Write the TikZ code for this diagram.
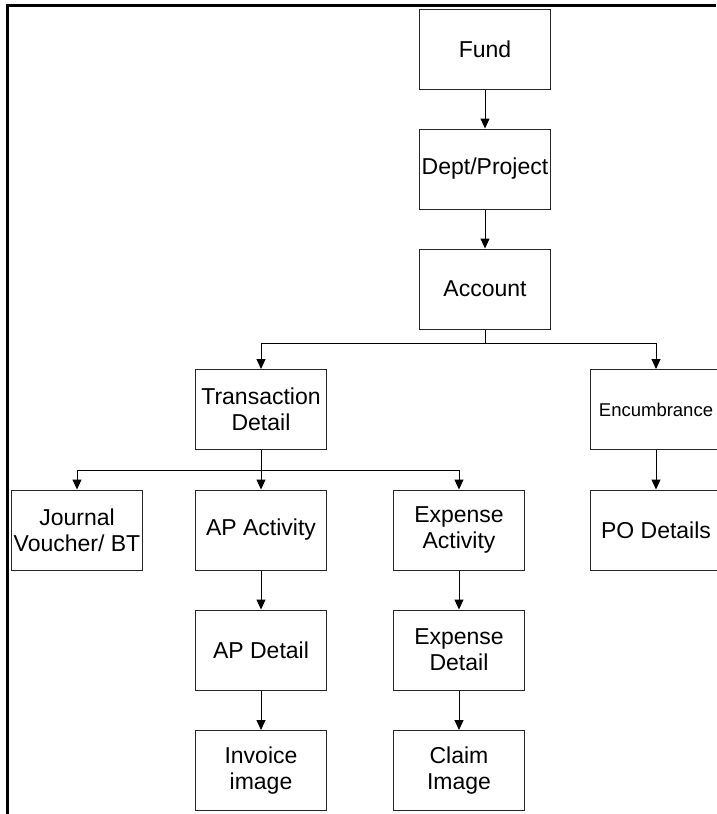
\documentclass[tikz,border=0pt]{standalone}
\usepackage{fontspec}
\setmainfont{Liberation Sans}
\usetikzlibrary{arrows.meta}
\tikzset{
  box/.style={draw=black!85, line width=1pt, minimum width=131pt, minimum height=80pt,
    inner sep=0pt, align=center, font=\fontsize{23}{26}\selectfont},
  smallbox/.style={box, font=\fontsize{18.5}{21}\selectfont},
  arr/.style={draw=black, line width=1pt, -{Triangle[width=9pt,length=10pt]}},
  frame/.style={draw=black, line width=2.5pt}
}
\begin{document}
\begin{tikzpicture}[x=1pt,y=1pt]
\useasboundingbox (0,0) rectangle (716,-814);
\draw[frame] (7.5,-814) -- (7.5,-5.3) -- (716,-5.3);

\node[box] (fund) at (485,-49) {Fund};
\node[box] (dept) at (485,-169) {Dept/Project};
\node[box] (account) at (485,-289) {Account};
\node[box] (trans) at (261,-409.5) {Transaction\\Detail};
\node[smallbox] (enc) at (656,-409.5) {Encumbrance};
\node[box] (jv) at (77,-530) {Journal\\Voucher/ BT};
\node[box] (apact) at (261,-530) {AP Activity};
\node[box] (expact) at (459,-530) {Expense\\Activity};
\node[box] (po) at (656,-530) {PO Details};
\node[box] (apdet) at (261,-650) {AP Detail};
\node[box] (expdet) at (459,-650) {Expense\\Detail};
\node[box] (inv) at (261,-770.5) {Invoice\\image};
\node[box] (claim) at (459,-770.5) {Claim\\Image};

\draw[arr] (fund) -- (dept);
\draw[arr] (dept) -- (account);
\draw[arr] (account.south) -- ++(0,-14) -| (trans.north);
\draw[arr] (account.south) -- ++(0,-14) -| (enc.north);
\draw[arr] (enc) -- (po);
\draw[arr] (trans.south) -- ++(0,-20) -| (jv.north);
\draw[arr] (trans) -- (apact);
\draw[arr] (trans.south) -- ++(0,-20) -| (expact.north);
\draw[arr] (apact) -- (apdet);
\draw[arr] (apdet) -- (inv);
\draw[arr] (expact) -- (expdet);
\draw[arr] (expdet) -- (claim);
\end{tikzpicture}
\end{document}
